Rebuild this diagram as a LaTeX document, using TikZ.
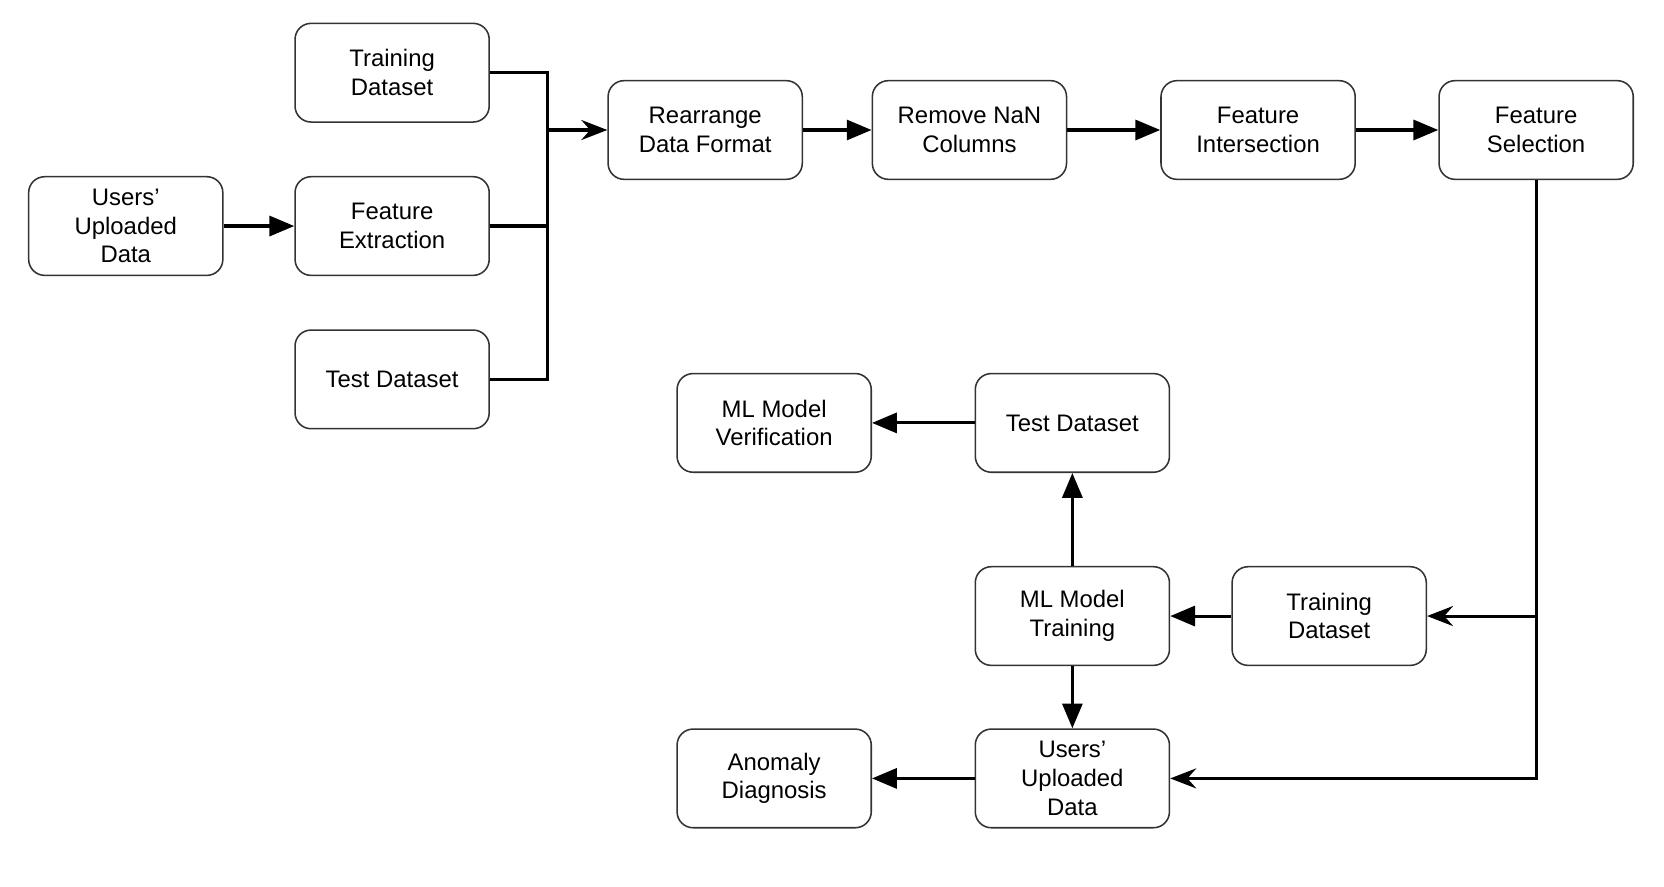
\documentclass[tikz,border=0pt]{standalone}
\usepackage{fontspec}
\setmainfont{Liberation Sans}
\usetikzlibrary{arrows.meta}

\tikzset{
  box/.style={draw=black!80, line width=1.1pt, rounded corners=0.4cm,
    minimum width=4.855cm, minimum height=2.467cm, align=center,
    font=\fontsize{17}{20.4}\selectfont},
  flow/.style={line width=2.2pt, -{Triangle[length=0.62cm,width=0.5cm]}},
  mergeflow/.style={line width=2.2pt, -{Stealth[length=0.65cm,width=0.5cm,inset=0.22cm]}},
  bus/.style={line width=2.2pt}
}

\begin{document}
\begin{tikzpicture}[x=0.02653cm, y=-0.02653cm]
     \useasboundingbox (0,0) rectangle (1568,835);

     % 前処理
     \node [box] (upA)    at (118.5, 213)   {Users’\\Uploaded\\Data};
     \node [box] (trainA) at (369.5, 68.5)  {Training\\Dataset};
     \node [box] (extr)   at (369.5, 213)   {Feature\\Extraction};
     \node [box] (testA)  at (369.5, 357.5) {Test Dataset};

     \node [box] (rearr)  at (664.5, 122.5)  {Rearrange\\Data Format};
     \node [box] (nan)    at (913.5, 122.5)  {Remove NaN\\Columns};
     \node [box] (inter)  at (1185.5, 122.5) {Feature\\Intersection};
     \node [box] (fsel)   at (1447.5, 122.5) {Feature\\Selection};

     % 学習と診断
     \node [box] (verif)  at (729.5, 398.5)  {ML Model\\Verification};
     \node [box] (testB)  at (1010.5, 398.5) {Test Dataset};
     \node [box] (trainM) at (1010.5, 580.5) {ML Model\\Training};
     \node [box] (trainB) at (1252.5, 580.5) {Training\\Dataset};
     \node [box] (upB)    at (1010.5, 733.5) {Users’\\Uploaded\\Data};
     \node [box] (anom)   at (729.5, 733.5)  {Anomaly\\Diagnosis};

     % 合流点
     \coordinate (merge) at (516, 122.5);

     % 矢印
     \draw [flow] (upA) -- (extr);
     \draw [bus] (trainA.east) -| (merge);
     \draw [bus] (extr.east) -| (merge);
     \draw [bus] (testA.east) -| (merge);
     \draw [mergeflow] (merge) -- (rearr.west);

     \draw [flow] (rearr) -- (nan);
     \draw [flow] (nan) -- (inter);
     \draw [flow] (inter) -- (fsel);

     \draw [mergeflow] (fsel.south) |- (trainB.east);
     \draw [mergeflow] (fsel.south) |- (upB.east);

     \draw [flow] (trainB) -- (trainM);
     \draw [flow] (trainM) -- (testB);
     \draw [flow] (testB) -- (verif);
     \draw [flow] (trainM) -- (upB);
     \draw [flow] (upB) -- (anom);
\end{tikzpicture}
\end{document}
